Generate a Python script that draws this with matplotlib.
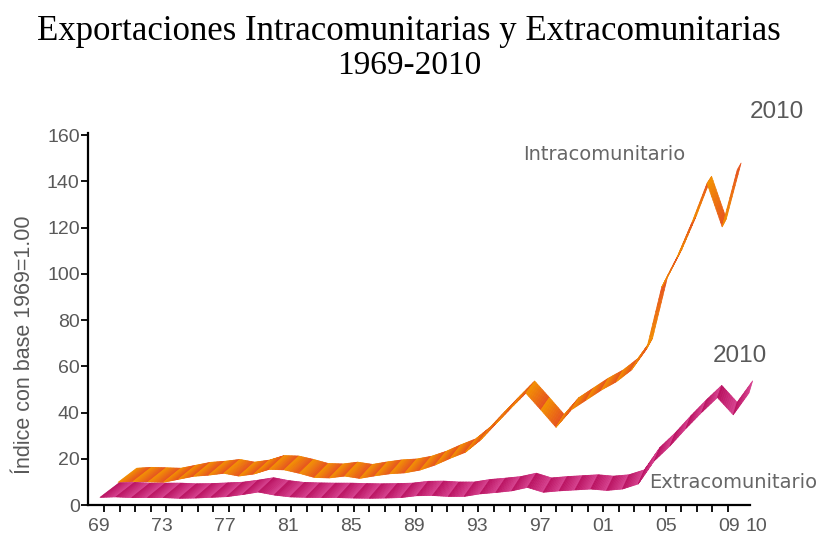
import numpy as np
import matplotlib.pyplot as plt
import matplotlib.colors as mcolors
from matplotlib.collections import PolyCollection

"""__==** DATA **==__"""
years = np.arange(1969, 2011)
# front edge of each ribbon, in axis units
extra = [3.3, 3.5, 3.2, 3.2, 3.2, 2.9, 3.0, 3.3, 3.6, 4.5,
         5.6, 4.3, 3.5, 3.3, 3.2, 3.2, 3.0, 2.9, 3.0, 3.2,
         4.0, 4.1, 3.7, 3.7, 4.8, 5.4, 6.1, 7.6, 5.5, 6.1,
         6.5, 6.9, 6.3, 6.9, 9.1, 19.0, 25.5, 33.0, 40.0, 46.5,
         39.0, 48.5]
intra = [9.8, 10.2, 10.0, 9.8, 11.1, 12.4, 12.9, 13.7, 12.5, 13.4,
         15.4, 15.2, 13.7, 11.9, 11.7, 12.5, 11.5, 12.6, 13.5, 13.9,
         15.1, 17.3, 20.2, 22.8, 28.1, 35.0, 41.8, 48.4, 41.1, 33.6,
         41.1, 45.4, 49.7, 53.3, 58.4, 67.5, 94.3, 107.0, 122.2, 139.1,
         120.3, 145.0]
yticks = np.arange(0, 161, 20)
xlabel_years = [1969, 1973, 1977, 1981, 1985, 1989, 1993, 1997, 2001, 2005, 2009, 2010]

"""__==** STYLE **==__"""
W, H = 818, 537
grey = '#595959'
# depth of the ribbons (shrinks towards the upper right)
vx, vy, k_depth = 2019.5, 266.4, 0.0238
# the intracomunitario ribbon sits one row further back
intra_x0, intra_step = 1970.14, 0.954


def ribbon(ax, xs, ys, c_left, c_right, nsub=10):
    xs = np.asarray(xs, float)
    ys = np.asarray(ys, float)
    bx = xs + k_depth * (vx - xs)
    by = ys + k_depth * (vy - ys)
    c0 = np.array(mcolors.to_rgb(c_left))
    c1 = np.array(mcolors.to_rgb(c_right))
    polys, cols = [], []
    for i in range(len(xs) - 1):
        for j in range(nsub):
            t0, t1 = j / nsub, (j + 1) / nsub
            f0 = (xs[i] + (xs[i + 1] - xs[i]) * t0, ys[i] + (ys[i + 1] - ys[i]) * t0)
            f1 = (xs[i] + (xs[i + 1] - xs[i]) * t1, ys[i] + (ys[i + 1] - ys[i]) * t1)
            b0 = (bx[i] + (bx[i + 1] - bx[i]) * t0, by[i] + (by[i + 1] - by[i]) * t0)
            b1 = (bx[i] + (bx[i + 1] - bx[i]) * t1, by[i] + (by[i + 1] - by[i]) * t1)
            polys.append([f0, f1, b1, b0])
            cols.append(c0 + (c1 - c0) * (t0 + t1) / 2)
    pc = PolyCollection(polys, facecolors=cols, edgecolors=cols, linewidths=0.5, clip_on=False)
    ax.add_collection(pc)


fig = plt.figure(figsize=(W / 100, H / 100), dpi=100)
ax = fig.add_axes([88 / W, 32 / H, 662 / W, 372.3 / H])

x_intra = intra_x0 + intra_step * (years - 1969)
ribbon(ax, x_intra, intra, '#F39200', '#E6521F')
ribbon(ax, years, extra, '#B80F5F', '#D7428F')

ax.set_xlim(1968.242, 2010.06)
ax.set_ylim(0, 161)
for s in ['top', 'right']:
    ax.spines[s].set_visible(False)
for s in ['left', 'bottom']:
    ax.spines[s].set_linewidth(1.6)

ax.set_yticks(yticks)
ax.tick_params(axis='y', direction='out', length=5, width=1.3, labelsize=14, labelcolor=grey, pad=1)
ax.set_xticks(1969.25 + 0.9855 * np.arange(41))
ax.set_xticklabels([])
ax.tick_params(axis='x', direction='out', length=5, width=1.3)
for lab in ax.get_yticklabels():
    lab.set_family('Liberation Sans')

for yr in xlabel_years:
    lx = 1968.94 + 0.995 * (yr - 1969)
    if yr == 2010:
        lx += 0.75
    ax.text(lx, -0.059, str(yr)[2:], transform=ax.get_xaxis_transform(), ha='center', va='center',
            fontsize=14, color=grey, family='Liberation Sans', clip_on=False)

fig.text(25 / W, 1 - 345 / H, 'Índice con base 1969=1.00', rotation=90, ha='center', va='center',
         fontsize=15.5, color=grey, family='Liberation Sans')

fig.text(0.5, 1 - 32 / H, 'Exportaciones Intracomunitarias y Extracomunitarias',
         ha='center', va='center', fontsize=25, family='Liberation Serif', color='black')
fig.text(0.5, 1 - 66 / H, '1969-2010', ha='center', va='center', fontsize=24,
         family='Liberation Serif', color='black')

fig.text(604 / W, 1 - 155 / H, 'Intracomunitario', ha='center', va='center', fontsize=14,
         color='#666666', family='DejaVu Sans')
fig.text(733 / W, 1 - 482 / H, 'Extracomunitario', ha='center', va='center', fontsize=14,
         color='#666666', family='DejaVu Sans')
fig.text(777 / W, 1 - 112 / H, '2010', ha='center', va='center', fontsize=17.5,
         color=grey, family='Liberation Sans')
fig.text(740 / W, 1 - 356 / H, '2010', ha='center', va='center', fontsize=17.5,
         color=grey, family='Liberation Sans')

fig.savefig('out.png', dpi=100)
